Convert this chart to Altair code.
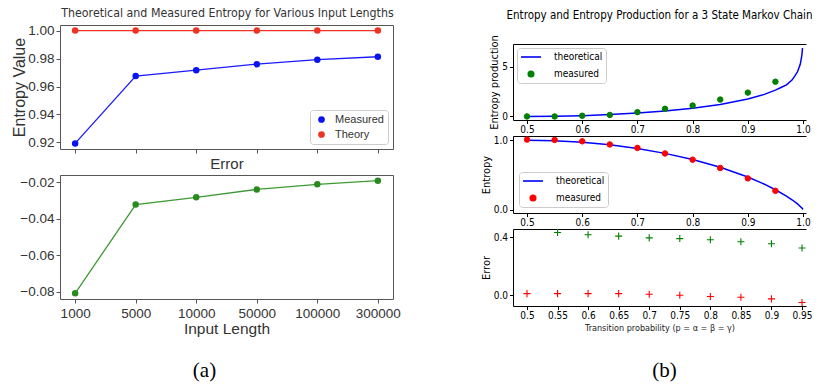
import altair as alt
import pandas as pd

# ---------------- (a) data ----------------
input_lengths = ["1000", "5000", "10000", "50000", "100000", "300000"]
measured_entropy = [0.9193, 0.9675, 0.9717, 0.9760, 0.9792, 0.9813]
theory_entropy = [1.0, 1.0, 1.0, 1.0, 1.0, 1.0]
error_a = [-0.0808, -0.0322, -0.0282, -0.0239, -0.0211, -0.0191]

# ---------------- (b) data ----------------
p_measured = [0.5, 0.55, 0.6, 0.65, 0.7, 0.75, 0.8, 0.85, 0.9, 0.95]
ep_measured = [0.0, 0.0, 0.07, 0.15, 0.43, 0.77, 1.1, 1.7, 2.4, 3.5]
p_theory_ep = [0.5, 0.55, 0.6, 0.65, 0.7, 0.75, 0.8, 0.85, 0.9, 0.93, 0.95, 0.96,
               0.97, 0.98, 0.985, 0.99, 0.995, 0.998, 0.999]
ep_theory = [0.0, 0.02, 0.08, 0.19, 0.34, 0.55, 0.83, 1.21, 1.76, 2.22, 2.65, 2.92,
             3.18, 3.66, 4.06, 4.50, 5.25, 6.19, 6.90]
h_measured = [1.01, 1.005, 0.985, 0.94, 0.89, 0.81, 0.72, 0.60, 0.45, 0.27]
p_theory_h = [0.5, 0.55, 0.6, 0.65, 0.7, 0.75, 0.8, 0.85, 0.9, 0.93, 0.95, 0.97,
              0.98, 0.99, 0.995, 0.998, 0.999, 1.0]
h_theory = [1.0, 0.993, 0.971, 0.934, 0.881, 0.811, 0.722, 0.610, 0.469, 0.366,
            0.286, 0.194, 0.141, 0.081, 0.045, 0.021, 0.011, 0.0]
p_err_green = [0.55, 0.6, 0.65, 0.7, 0.75, 0.8, 0.85, 0.9, 0.95]
err_green = [0.432, 0.416, 0.407, 0.395, 0.39, 0.382, 0.368, 0.354, 0.325]
p_err_red = [0.5, 0.55, 0.6, 0.65, 0.7, 0.75, 0.8, 0.85, 0.9, 0.95]
err_red = [0.011, 0.011, 0.011, 0.011, 0.007, 0.0, -0.009, -0.014, -0.025, -0.05]

FA = "Liberation Sans"
FB = "DejaVu Sans Condensed, DejaVu Sans"
FS = "Liberation Serif"
TXT_A = "#333333"
FRAME_A = "#555555"
BLUE_A, RED_A, GREEN_A = "#1a1aff", "#ee3322", "#2a8a20"

IND = dict(color="independent", shape="independent", size="independent")

# ---------------- (a) top ----------------
dfA = pd.DataFrame({
    "length": input_lengths * 2,
    "value": measured_entropy + theory_entropy,
    "series": ["Measured"] * 6 + ["Theory"] * 6,
})
xA_top = alt.X("length:N", sort=input_lengths,
               scale=alt.Scale(type="point", padding=0.25),
               axis=alt.Axis(labels=False, title="Error", titleFont=FA, titleFontSize=15,
                             titleColor=TXT_A, titlePadding=3, ticks=True, tickSize=4,
                             domain=False, tickColor=FRAME_A))
yA_top = alt.Y("value:Q", scale=alt.Scale(domain=[0.9153, 1.004], nice=False, zero=False),
               axis=alt.Axis(values=[0.92, 0.94, 0.96, 0.98, 1.0], format=".2f",
                             title="Entropy Value", titleFontSize=16, titleFont=FA,
                             titleColor=TXT_A, titlePadding=0,
                             labelFont=FA, labelFontSize=13.5, labelColor=TXT_A,
                             tickSize=4, tickColor=FRAME_A, domain=False, labelPadding=2))
baseA = alt.Chart(dfA)
lineM = baseA.transform_filter(alt.datum.series == "Measured").mark_line(
    color=BLUE_A, strokeWidth=1.3).encode(x=xA_top, y=yA_top)
lineT = baseA.transform_filter(alt.datum.series == "Theory").mark_line(
    color=RED_A, strokeWidth=1.3).encode(x=xA_top, y=yA_top)
ptsA = baseA.mark_circle(size=42, opacity=1).encode(
    x=xA_top, y=yA_top,
    color=alt.Color("series:N",
                    scale=alt.Scale(domain=["Measured", "Theory"], range=["#0a14f0", RED_A]),
                    legend=alt.Legend(title=None, orient="bottom-right", offset=5,
                                      labelFont=FA, labelFontSize=11, labelColor=TXT_A,
                                      symbolType="circle", symbolSize=45, symbolStrokeWidth=0,
                                      symbolOffset=2,
                                      strokeColor="#cccccc", fillColor="white",
                                      cornerRadius=3, padding=4, rowPadding=3,
                                      labelOffset=8)))
topA = alt.layer(lineM, lineT, ptsA).properties(
    width=333, height=124,
    title=alt.TitleParams("Theoretical and Measured Entropy for Various Input Lengths",
                          font="DejaVu Sans Condensed", fontSize=12.3, color=TXT_A,
                          fontWeight="normal", offset=4, frame="group", dx=1),
    view=alt.ViewBackground(stroke=FRAME_A, strokeWidth=1),
)

# ---------------- (a) bottom ----------------
dfE = pd.DataFrame({"length": input_lengths, "error": error_a})
xA_bot = alt.X("length:N", sort=input_lengths,
               scale=alt.Scale(type="point", padding=0.25),
               axis=alt.Axis(labelAngle=0, title="Input Length", titleFontSize=15.5,
                             titleFont=FA, titleColor=TXT_A, titlePadding=2,
                             labelFont=FA, labelFontSize=13.5, labelColor=TXT_A,
                             tickSize=4, tickColor=FRAME_A, domain=False, labelPadding=3))
yA_bot = alt.Y("error:Q", scale=alt.Scale(domain=[-0.0839, -0.0160], nice=False, zero=False),
               axis=alt.Axis(values=[-0.08, -0.06, -0.04, -0.02], format=".2f", title=None,
                             labelFont=FA, labelFontSize=13.5, labelColor=TXT_A,
                             tickSize=4, tickColor=FRAME_A, domain=False, labelPadding=2))
baseE = alt.Chart(dfE)
botA = alt.layer(
    baseE.mark_line(color="#3d9a33", strokeWidth=1.3).encode(x=xA_bot, y=yA_bot),
    baseE.mark_circle(size=42, opacity=1, color=GREEN_A).encode(x=xA_bot, y=yA_bot),
).properties(
    width=333, height=124,
    title=alt.TitleParams("(a)", orient="bottom", font=FS, fontSize=21, color="black",
                          fontWeight="normal", offset=23, frame="group", dx=-22),
    view=alt.ViewBackground(stroke=FRAME_A, strokeWidth=1),
)

left = alt.vconcat(topA, botA, spacing=26, bounds="flush").resolve_scale(**IND)

# ---------------- (b) helpers ----------------
def x_axis_b(values, fmt, title=None):
    kw = dict(values=values, format=fmt, labelFont=FB, labelFontSize=10, labelColor="black",
              tickSize=3.5, tickColor="black", domainColor="black", labelPadding=1,
              labelOverlap=False)
    if title is not None:
        kw.update(title=title, titleFont=FB, titleFontSize=9, titleColor="#222222",
                  titlePadding=3)
    else:
        kw.update(title=None)
    return alt.Axis(**kw)

def top_axis():
    return alt.Axis(orient="top", labels=False, ticks=False, title=None,
                    domainColor="black")

def y_axis_b(values, fmt, title):
    return alt.Axis(values=values, format=fmt, title=title, titleFont=FB, titleFontSize=11,
                    titleColor="black", titlePadding=2, labelFont=FB, labelFontSize=10,
                    labelColor="black", tickSize=3.5, tickColor="black", domainColor="black",
                    labelPadding=2)

SERIES_B = ["theoretical", "measured"]
LINE_SYMBOL = "M-2,0H2"

def legend_b(color_m, orient, offset):
    return alt.Legend(
        title=None, orient=orient, offset=offset,
        labelFont=FB, labelFontSize=10, labelColor="black",
        symbolFillColor=color_m, symbolStrokeWidth=1.6, symbolOpacity=1, symbolOffset=5,
        strokeColor="#cccccc", fillColor="white", cornerRadius=3,
        padding=3, rowPadding=6, labelOffset=17)

WB = 293
xs1 = alt.Scale(domain=[0.4746, 1.0054], nice=False, zero=False)
ticks1 = [0.5, 0.6, 0.7, 0.8, 0.9, 1.0]

def measured_layer(df, ys, color_m, orient, offset):
    leg = legend_b(color_m, orient, offset)
    return alt.Chart(df).mark_point(filled=False, fill=color_m, opacity=1,
                                    strokeWidth=1).encode(
        x=alt.X("p:Q", scale=xs1, axis=top_axis()),
        y=alt.Y("v:Q", scale=ys),
        color=alt.Color("series:N", scale=alt.Scale(domain=SERIES_B,
                                                    range=["#0000ff", color_m]), legend=leg),
        shape=alt.Shape("series:N", scale=alt.Scale(domain=SERIES_B,
                                                    range=[LINE_SYMBOL, "circle"]), legend=leg),
        size=alt.Size("series:N", scale=alt.Scale(domain=SERIES_B, range=[100, 30]),
                      legend=leg),
    )

# title holder for the right column (no visible marks)
title_b = alt.Chart(pd.DataFrame({"p": []})).mark_point(opacity=0).encode(
    x=alt.X("p:Q", axis=None), y=alt.Y("p:Q", axis=None)
).properties(
    width=WB, height=3,
    title=alt.TitleParams("Entropy and Entropy Production for a 3 State Markov Chain",
                          font="DejaVu Sans Condensed", fontSize=11.5, color="black",
                          fontWeight="normal", offset=4, frame="group", dx=0),
)

# ---------------- (b) panel 1: entropy production ----------------
df_ep_t = pd.DataFrame({"p": p_theory_ep, "v": ep_theory})
df_ep_m = pd.DataFrame({"p": p_measured, "v": ep_measured, "series": "measured"})
ys1 = alt.Scale(domain=[-0.36, 7.3], nice=False, zero=False)
p1 = alt.layer(
    alt.Chart(df_ep_t).mark_line(color="#0000ff", strokeWidth=1.5).encode(
        x=alt.X("p:Q", scale=xs1, axis=x_axis_b(ticks1, ".1f")),
        y=alt.Y("v:Q", scale=ys1, axis=y_axis_b([0, 5], "d", "Entropy production"))),
    measured_layer(df_ep_m, ys1, "#008000", "top-left", 4),
).resolve_axis(x="independent").properties(width=WB, height=76)

# ---------------- (b) panel 2: entropy ----------------
df_h_t = pd.DataFrame({"p": p_theory_h, "v": h_theory})
df_h_m = pd.DataFrame({"p": p_measured, "v": h_measured, "series": "measured"})
ys2 = alt.Scale(domain=[-0.05, 1.062], nice=False, zero=False)
p2 = alt.layer(
    alt.Chart(df_h_t).mark_line(color="#0000ff", strokeWidth=1.5).encode(
        x=alt.X("p:Q", scale=xs1, axis=x_axis_b(ticks1, ".1f")),
        y=alt.Y("v:Q", scale=ys2, axis=y_axis_b([0.0, 0.5, 1.0], ".1f", "Entropy"))),
    measured_layer(df_h_m, ys2, "#ff0000", "bottom-left", 6),
).resolve_axis(x="independent").properties(width=WB, height=77)

# ---------------- (b) panel 3: error ----------------
df_er_g = pd.DataFrame({"p": p_err_green, "v": err_green})
df_er_r = pd.DataFrame({"p": p_err_red, "v": err_red})
xs3 = alt.Scale(domain=[0.4771, 0.9565], nice=False, zero=False)
ys3 = alt.Scale(domain=[-0.074, 0.456], nice=False, zero=False)
PLUS = "M-1,0L1,0M0,-1L0,1"
ticks3 = [0.5, 0.55, 0.6, 0.65, 0.7, 0.75, 0.8, 0.85, 0.9, 0.95]
p3 = alt.layer(
    alt.Chart(df_er_r).mark_point(shape=PLUS, size=50, strokeWidth=1.1, color="#ff0000",
                                  opacity=1).encode(
        x=alt.X("p:Q", scale=xs3,
                axis=x_axis_b(ticks3, ".2~f", "Transition probability (p = α = β = γ)")),
        y=alt.Y("v:Q", scale=ys3, axis=y_axis_b([0.0, 0.2, 0.4], ".1f", "Error"))),
    alt.Chart(df_er_g).mark_point(shape=PLUS, size=50, strokeWidth=1.1, color="#008000",
                                  opacity=1).encode(
        x=alt.X("p:Q", scale=xs3, axis=top_axis()),
        y=alt.Y("v:Q", scale=ys3)),
).resolve_axis(x="independent").properties(
    width=WB, height=77,
    title=alt.TitleParams("(b)", orient="bottom", font=FS, fontSize=21, color="black",
                          fontWeight="normal", offset=27, frame="group", dx=5),
)

right = alt.vconcat(title_b, p1, p2, p3, spacing=16, bounds="flush").resolve_scale(**IND)

chart = alt.hconcat(left, right, spacing=453, bounds="flush").resolve_scale(**IND).properties(
    padding={"left": 3, "top": -2, "right": 0, "bottom": 0},
    background="white",
).configure_view(stroke="transparent").configure_axis(grid=False, titleFontWeight="normal")

chart.save("out.html", embed_options={"renderer": "svg", "actions": False})
